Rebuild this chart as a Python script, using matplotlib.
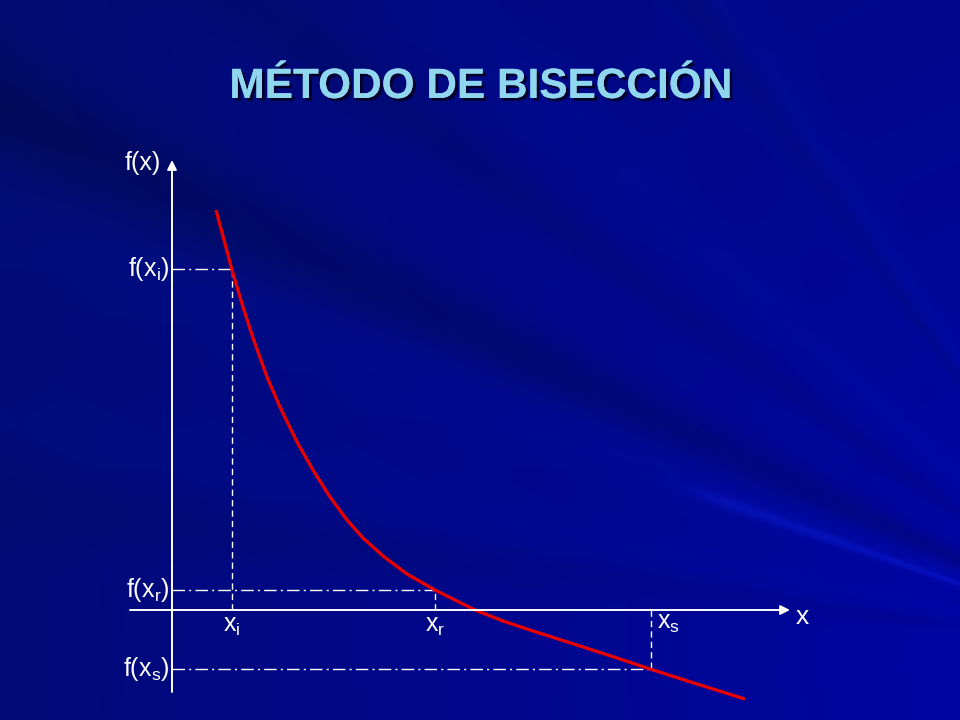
import numpy as np
import matplotlib
matplotlib.use("Agg")
from matplotlib import pyplot as plt
import matplotlib.patheffects as pe

plt.rcParams['font.family'] = ['Liberation Sans', 'DejaVu Sans']
plt.rcParams['mathtext.default'] = 'regular'

# curve f(x)
curve_x = [0.44, 0.60, 0.71, 0.81, 0.95, 1.08, 1.25, 1.41, 1.58, 1.75, 1.91,
           2.11, 2.35, 2.63, 3.03, 3.31, 3.58, 4.08, 4.45, 4.78, 5.25, 5.73]
curve_y = [4.00, 3.40, 3.03, 2.72, 2.33, 2.03, 1.68, 1.40, 1.13, 0.90, 0.72,
           0.54, 0.36, 0.20, 0.00, -0.11, -0.20, -0.36, -0.48, -0.59, -0.74, -0.89]

# bisection points
x_i, x_r, x_s = 0.60, 2.63, 4.79
fx_i, fx_r, fx_s = 3.41, 0.20, -0.59
x_names = ['x_i', 'x_r', 'x_s']

title = 'MÉTODO DE BISECCIÓN'

W, H = 960, 720
fig = plt.figure(figsize=(9.6, 7.2), dpi=100)

# --- background: dark blue with soft rays coming from the lower right
yy, xx = np.mgrid[0:H, 0:W].astype(float)
cx, cy = 1150.0, 650.0
ang = np.arctan2(yy - cy, xx - cx)
dist = np.hypot(xx - cx, yy - cy)
blue = 172 - 62 * (dist / 1400.0) ** 0.9
green = 4 + 8 * (dist / 1400.0)
red = np.zeros_like(blue)

rays = [  # point the ray passes, width (rad), strength, reach (px)
    ((800, 528), 0.010, 26, 480),
    ((700, 440), 0.030, -12, 1400),
    ((450, 380), 0.040, 6, 1400),
    ((300, 250), 0.035, -12, 1400),
    ((960, 380), 0.015, -14, 900),
    ((880, 250), 0.030, 8, 900),
    ((400, 110), 0.020, -12, 1400),
    ((600, 150), 0.030, 6, 1400),
    ((0, 500), 0.025, -8, 1400),
    ((0, 420), 0.030, 4, 1400),
]
for (px, py), w, s, reach in rays:
    a0 = np.arctan2(py - cy, px - cx)
    g = np.exp(-0.5 * ((ang - a0) / w) ** 2)
    g *= 1 / (1 + np.exp((dist - reach) / 12))
    blue += s * g
    if s > 0:
        green += 0.35 * s * g
        red += 0.2 * s * g

bg = np.clip(np.dstack([red, green, blue]) / 255.0, 0, 1)
bax = fig.add_axes([0, 0, 1, 1])
bax.imshow(bg, aspect='auto', extent=[0, W, H, 0])
bax.set_axis_off()

# --- main drawing axes, origin at the crossing of the axes
ax = fig.add_axes([0, 0, 1, 1])
ax.patch.set_alpha(0)
ax.set_xlim(-1.72, 7.88)
ax.set_ylim(-1.10, 6.10)
ax.set_axis_off()

arrow = dict(arrowstyle='-|>', color='white', lw=1.4, mutation_scale=14,
             shrinkA=0, shrinkB=0)
ax.annotate('', xy=(0, 4.50), xytext=(0, -0.82), arrowprops=arrow)
ax.annotate('', xy=(6.18, 0), xytext=(-0.42, 0), arrowprops=arrow)

dash_v = dict(color='white', lw=1.0, dashes=(4.5, 3))
dash_h = dict(color='white', lw=1.0, dashes=(9, 3, 1.5, 3))
for xv, fv in zip([x_i, x_r, x_s], [fx_i, fx_r, fx_s]):
    ax.plot([xv, xv], [0, fv], **dash_v)
    ax.plot([0, xv], [fv, fv], **dash_h)

ax.plot(curve_x, curve_y, color='#e60000', lw=2.4, solid_capstyle='butt',
        solid_joinstyle='round')

fs = 18
ax.text(-0.29, 4.47, 'f(x)', color='white', fontsize=fs, ha='center', va='center')
for fv, nm in zip([fx_i, fx_r, fx_s], x_names):
    ax.text(-0.03, fv, r'$f(%s)$' % nm, color='white', fontsize=fs,
            ha='right', va='center')
ax.text(x_i, -0.16, r'$x_i$', color='white', fontsize=fs, ha='center', va='center')
ax.text(x_r, -0.16, r'$x_r$', color='white', fontsize=fs, ha='center', va='center')
ax.text(x_s + 0.17, -0.13, r'$x_s$', color='white', fontsize=fs, ha='center', va='center')
ax.text(6.30, -0.07, 'x', color='white', fontsize=fs + 1, ha='center', va='center')

fig.text(481 / W, 1 - 87 / H, title, color='#8fd6ee', fontsize=30.5,
         fontweight='bold', ha='center', va='center',
         path_effects=[pe.withSimplePatchShadow(offset=(2, -2), shadow_rgbFace='#000022',
                                                alpha=0.9),
                       pe.Normal()])

fig.savefig('out.png', dpi=100)
